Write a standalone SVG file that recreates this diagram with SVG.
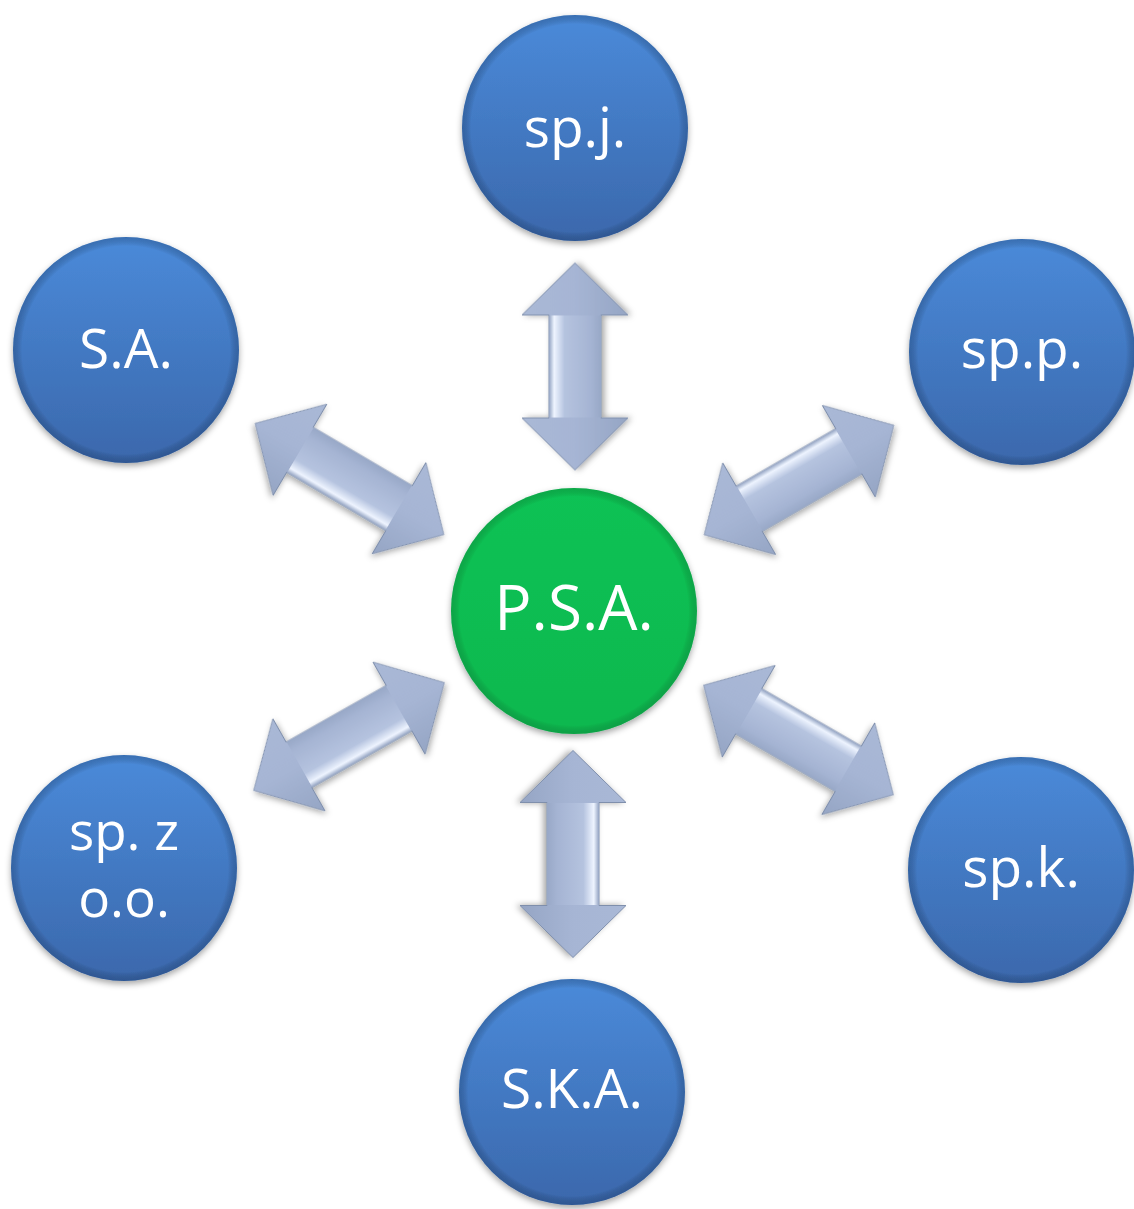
<svg xmlns="http://www.w3.org/2000/svg" width="1134" height="1209" viewBox="0 0 1134 1209">
<defs>
  <linearGradient id="gBlue" x1="0" y1="0" x2="0" y2="1">
    <stop offset="0" stop-color="#4a8ad9"/>
    <stop offset="1" stop-color="#3b68ac"/>
  </linearGradient>
  <radialGradient id="gEdge" cx="0.5" cy="0.5" r="0.5">
    <stop offset="0.92" stop-color="#000" stop-opacity="0"/>
    <stop offset="1" stop-color="#10305a" stop-opacity="0.3"/>
  </radialGradient>
  <linearGradient id="gGreen" x1="0" y1="0" x2="0" y2="1">
    <stop offset="0" stop-color="#0ec254"/>
    <stop offset="1" stop-color="#0bb84f"/>
  </linearGradient>
  <radialGradient id="gGEdge" cx="0.5" cy="0.5" r="0.5">
    <stop offset="0.93" stop-color="#000" stop-opacity="0"/>
    <stop offset="1" stop-color="#05602a" stop-opacity="0.25"/>
  </radialGradient>
  <linearGradient id="gArrow" x1="0" y1="0" x2="0" y2="1">
    <stop offset="0" stop-color="#a9b8d6"/>
    <stop offset="0.5" stop-color="#a6b5d4"/>
    <stop offset="1" stop-color="#95a5c4"/>
  </linearGradient>
  <linearGradient id="gHiA" x1="0" y1="0" x2="0" y2="1">
    <stop offset="0" stop-color="#93a3c2"/>
    <stop offset="0.1" stop-color="#eef4ff"/>
    <stop offset="0.3" stop-color="#b5c3df"/>
    <stop offset="0.8" stop-color="#a5b4d3"/>
    <stop offset="1" stop-color="#98a8c7"/>
  </linearGradient>
  <linearGradient id="gHiB" x1="0" y1="1" x2="0" y2="0">
    <stop offset="0" stop-color="#93a3c2"/>
    <stop offset="0.1" stop-color="#eef4ff"/>
    <stop offset="0.3" stop-color="#b5c3df"/>
    <stop offset="0.8" stop-color="#a5b4d3"/>
    <stop offset="1" stop-color="#98a8c7"/>
  </linearGradient>
  <filter id="shadow" x="-20%" y="-20%" width="140%" height="140%">
    <feDropShadow dx="0" dy="3" stdDeviation="3" flood-color="#000" flood-opacity="0.35"/>
  </filter>
  <polygon id="arrD" points="-109.5,0 -57.5,-53 -57.5,-26 57.5,-26 57.5,-53 109.5,0 57.5,53 57.5,26 -57.5,26 -57.5,53"/>
  <rect id="shD" x="-57" y="-26" width="114" height="52"/>
  <polygon id="arrV" points="-103.5,0 -51.5,-53 -51.5,-26 51.5,-26 51.5,-53 103.5,0 51.5,53 51.5,26 -51.5,26 -51.5,53"/>
  <rect id="shV" x="-51" y="-26" width="102" height="52"/>
</defs>
<style>
  .node { filter: url(#shadow); }
  .blue { fill: url(#gBlue); }
  .edge { fill: url(#gEdge); }
  .green { fill: url(#gGreen); }
  .gedge { fill: url(#gGEdge); }
  .arrow { filter: url(#shadow); }
  .body { fill: url(#gArrow); stroke: #7f8fac; stroke-width: 1; }
  .hiA { fill: url(#gHiA); }
  .hiB { fill: url(#gHiB); }
  .lbl { font-family: "Open Sans", "Noto Sans", sans-serif; fill: #ffffff; font-size: 55px; text-anchor: middle; }
  .big { font-size: 62px; }
  .sm { font-size: 53px; }
</style>
<g id="connectors">
  <g class="arrow" transform="translate(575,366.5) rotate(-90)"><use href="#arrV" class="body"/><use href="#shV" class="hiA"/></g>
  <g class="arrow" transform="translate(573,854) rotate(90)"><use href="#arrV" class="body"/><use href="#shV" class="hiA"/></g>
  <g class="arrow" transform="translate(349.5,479) rotate(30.5)"><use href="#arrD" class="body"/><use href="#shD" class="hiB"/></g>
  <g class="arrow" transform="translate(799,480) rotate(-30)"><use href="#arrD" class="body"/><use href="#shD" class="hiA"/></g>
  <g class="arrow" transform="translate(349,736.5) rotate(-29.5)"><use href="#arrD" class="body"/><use href="#shD" class="hiB"/></g>
  <g class="arrow" transform="translate(798.5,740) rotate(30)"><use href="#arrD" class="body"/><use href="#shD" class="hiA"/></g>
</g>
<g id="node-spj" class="node">
  <circle cx="575" cy="128" r="113" class="blue"/>
  <circle cx="575" cy="128" r="113" class="edge"/>
  <text x="575" y="147" class="lbl">sp.j.</text>
</g>
<g id="node-sa" class="node">
  <circle cx="126" cy="350" r="113" class="blue"/>
  <circle cx="126" cy="350" r="113" class="edge"/>
  <text x="126" y="368" class="lbl">S.A.</text>
</g>
<g id="node-spp" class="node">
  <circle cx="1022" cy="352" r="113" class="blue"/>
  <circle cx="1022" cy="352" r="113" class="edge"/>
  <text x="1022" y="368" class="lbl">sp.p.</text>
</g>
<g id="node-psa" class="node">
  <circle cx="574" cy="611" r="123" class="green"/>
  <circle cx="574" cy="611" r="123" class="gedge"/>
  <text x="574" y="630" class="lbl big">P.S.A.</text>
</g>
<g id="node-spzoo" class="node">
  <circle cx="124" cy="868" r="113" class="blue"/>
  <circle cx="124" cy="868" r="113" class="edge"/>
  <text x="124" y="850" class="lbl sm">sp. z</text>
  <text x="124" y="917" class="lbl sm">o.o.</text>
</g>
<g id="node-spk" class="node">
  <circle cx="1021" cy="870" r="113" class="blue"/>
  <circle cx="1021" cy="870" r="113" class="edge"/>
  <text x="1021" y="887" class="lbl">sp.k.</text>
</g>
<g id="node-ska" class="node">
  <circle cx="572" cy="1092" r="113" class="blue"/>
  <circle cx="572" cy="1092" r="113" class="edge"/>
  <text x="572" y="1108" class="lbl">S.K.A.</text>
</g>
</svg>
